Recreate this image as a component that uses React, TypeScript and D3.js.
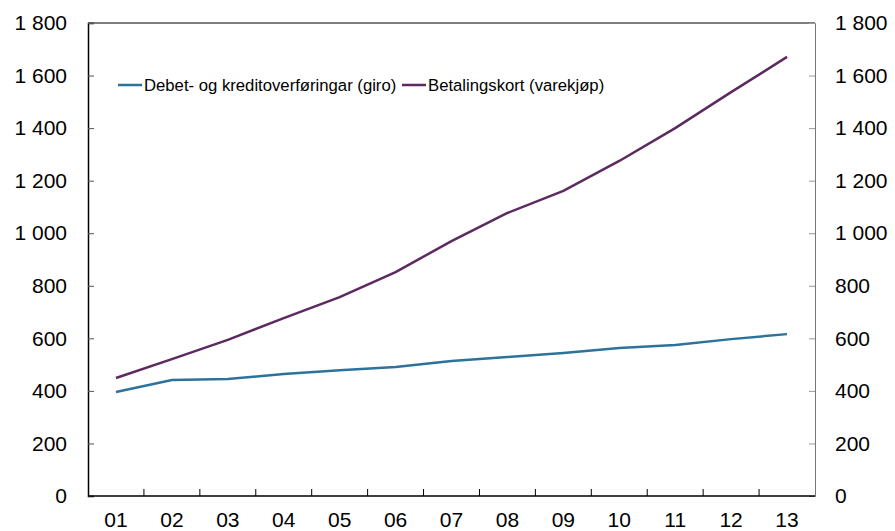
import React, { useEffect, useRef } from "react";
import * as d3 from "d3";

// years (two-digit labels)
const years = ["01", "02", "03", "04", "05", "06", "07", "08", "09", "10", "11", "12", "13"];
// Debet- og kreditoverføringar (giro)
const giro = [396, 441, 445, 464, 479, 491, 514, 529, 544, 563, 575, 597, 616];
// Betalingskort (varekjøp)
const kort = [449, 521, 594, 677, 757, 852, 970, 1077, 1161, 1275, 1400, 1537, 1671];
const yTicks = [0, 200, 400, 600, 800, 1000, 1200, 1400, 1600, 1800];

const seriesNames = ["Debet- og kreditoverføringar (giro)", "Betalingskort (varekjøp)"];
const colors = ["#2b739b", "#5c2a60"];

const fmt = (v: number) => d3.format(",")(v).replace(/,/g, " ");

export default function App() {
  const ref = useRef<SVGSVGElement>(null);

  useEffect(() => {
    const svg = d3.select(ref.current);
    svg.selectAll("*").remove();

    const left = 88, right = 815, top = 23, bottom = 496;
    const font = "Liberation Sans, Arial, sans-serif";

    const x = d3.scaleBand().domain(years).range([left, right]);
    const y = d3.scaleLinear().domain([0, 1800]).range([bottom, top]);

    // frame top
    svg.append("line")
      .attr("x1", left).attr("x2", right).attr("y1", top).attr("y2", top)
      .attr("stroke", "#000").attr("stroke-width", 1);

    // left axis
    const la = svg.append("g").attr("transform", `translate(${left},0)`)
      .call(d3.axisLeft(y).tickValues(yTicks).tickSize(-6).tickPadding(21).tickFormat(d => fmt(+d)));
    la.select(".domain").attr("stroke", "#000").attr("stroke-width", 1.5);
    la.selectAll(".tick line").attr("stroke", "#555");
    la.selectAll("text").attr("font-size", 21).attr("font-family", font).attr("fill", "#000");

    // right axis
    const ra = svg.append("g").attr("transform", `translate(${right},0)`)
      .call(d3.axisRight(y).tickValues(yTicks).tickSize(-6).tickPadding(20).tickFormat(d => fmt(+d)));
    ra.select(".domain").attr("stroke", "#777").attr("stroke-width", 1);
    ra.selectAll(".tick line").attr("stroke", "#999");
    ra.selectAll("text").attr("font-size", 21).attr("font-family", font).attr("fill", "#000");

    // bottom axis: ticks at band boundaries
    svg.append("line")
      .attr("x1", left).attr("x2", right).attr("y1", bottom).attr("y2", bottom)
      .attr("stroke", "#000").attr("stroke-width", 1.5);
    svg.append("g").selectAll("line")
      .data(years.slice(1))
      .enter()
      .append("line")
      .attr("x1", d => x(d)!).attr("x2", d => x(d)!)
      .attr("y1", bottom).attr("y2", bottom - 7)
      .attr("stroke", "#000").attr("stroke-width", 1);
    svg.append("g").selectAll("text")
      .data(years)
      .enter()
      .append("text")
      .attr("x", d => x(d)! + x.bandwidth() / 2)
      .attr("y", 527)
      .attr("text-anchor", "middle")
      .attr("font-size", 21).attr("font-family", font)
      .text(d => d);

    // lines
    const line = d3.line<number>()
      .x((_, i) => x(years[i])! + x.bandwidth() / 2)
      .y(d => y(d));
    [giro, kort].forEach((s, i) => {
      svg.append("path")
        .datum(s)
        .attr("d", line)
        .attr("fill", "none")
        .attr("stroke", colors[i])
        .attr("stroke-width", 2.5);
    });

    // legend
    const lx = [118, 402];
    seriesNames.forEach((n, i) => {
      svg.append("line")
        .attr("x1", lx[i]).attr("x2", lx[i] + 24).attr("y1", 85).attr("y2", 85)
        .attr("stroke", colors[i]).attr("stroke-width", 2.5);
      svg.append("text")
        .attr("x", lx[i] + 26).attr("y", 91)
        .attr("font-size", 16.7).attr("font-family", font)
        .text(n);
    });
  }, []);

  return (
    <svg ref={ref} width={895} height={531}
      style={{ position: "absolute", left: 0, top: 0, background: "#fff" }} />
  );
}
